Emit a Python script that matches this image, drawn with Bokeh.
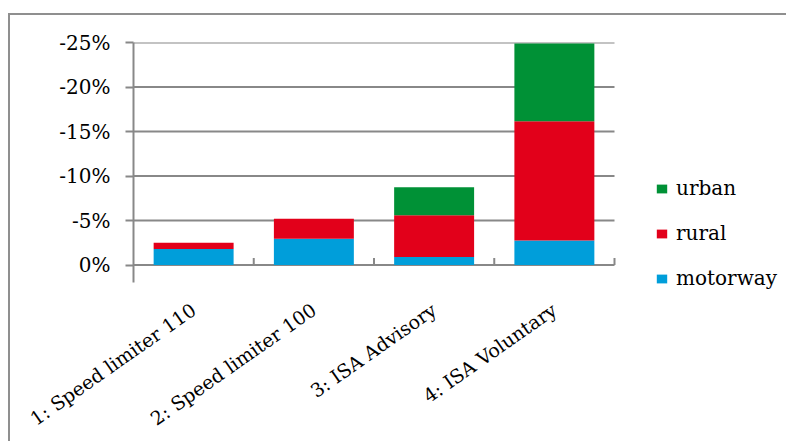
from bokeh.plotting import figure
from bokeh.models import (Range1d, FixedTicker, PrintfTickFormatter,
                          Legend, LegendItem, ColumnDataSource)
from bokeh.embed import file_html
from bokeh.resources import INLINE
import math

# ---- data ----
categories = ["1: Speed limiter 110", "2: Speed limiter 100", "3: ISA Advisory", "4: ISA Voluntary"]
series = ["motorway", "rural", "urban"]
motorway = [-1.8, -2.95, -0.9, -2.75]
rural = [-0.7, -2.25, -4.7, -13.4]
urban = [0.0, 0.0, -3.15, -8.75]
y_ticks = [0, -5, -10, -15, -20, -25]
colors = ["#009EDA", "#E2001A", "#009136"]

GRAY = "#888888"
FONT = "DejaVu Serif"

n = len(categories)
xpos = [i + 0.5 for i in range(n)]
src = ColumnDataSource(dict(x=xpos, motorway=motorway, rural=rural, urban=urban))

# plot area: n categories over 481px; the frame extends right to host the legend
frame_w, cats_px = 653, 481
frame_h = 248
p = figure(frame_width=frame_w, frame_height=frame_h, output_backend="svg", toolbar_location=None,
           x_range=Range1d(0, n * frame_w / cats_px),
           y_range=Range1d(start=frame_h / 8.904 - 25, end=-25),
           min_border_left=123, min_border_right=0, min_border_top=27, min_border_bottom=0)
p.styles = {"border-top": "2px solid #8f8f8f", "border-left": "2px solid #8f8f8f",
            "margin-top": "13px", "margin-left": "8px", "margin-bottom": "-30px"}
p.outline_line_color = None
p.background_fill_color = "white"
p.border_fill_color = "white"

# horizontal gridlines across the category area only
p.segment(x0=[0] * len(y_ticks), y0=y_ticks, x1=[n] * len(y_ticks), y1=y_ticks,
          line_color=GRAY, line_width=2)

rs = p.vbar_stack(series, x="x", width=0.665, source=src, color=colors, line_color=None)

# category boundary tick marks on the zero line
bounds = list(range(1, n + 1))
p.segment(x0=bounds, y0=[0] * n, x1=bounds, y1=[-0.8] * n, line_color=GRAY, line_width=2)

# y axis
ya = p.yaxis[0]
ya.bounds = (-25, 2)
ya.ticker = FixedTicker(ticks=y_ticks)
ya.formatter = PrintfTickFormatter(format="%d%%")
ya.axis_line_color = GRAY
ya.axis_line_width = 2
ya.major_tick_line_color = GRAY
ya.major_tick_line_width = 2
ya.major_tick_out = 8
ya.major_tick_in = 0
ya.minor_tick_line_color = None
ya.major_label_standoff = 15
ya.major_label_text_font = FONT
ya.major_label_text_font_size = "20px"
ya.major_label_text_color = "black"

# x axis with category names
xa = p.xaxis[0]
xa.ticker = FixedTicker(ticks=xpos)
xa.major_label_overrides = {x: c for x, c in zip(xpos, categories)}
xa.axis_line_color = None
xa.major_tick_line_color = None
xa.major_tick_out = 0
xa.major_tick_in = 0
xa.minor_tick_line_color = None
xa.major_label_orientation = math.radians(35)
xa.major_label_standoff = 17
xa.major_label_text_font = FONT
xa.major_label_text_font_size = "19px"
xa.major_label_text_color = "black"

p.grid.grid_line_color = None

legend = Legend(items=[LegendItem(label=s, renderers=[r]) for s, r in zip(series[::-1], rs[::-1])],
                location=(522, 0), border_line_color=None, background_fill_alpha=0,
                padding=0, margin=0, spacing=21, glyph_width=13, glyph_height=11,
                label_standoff=8, label_text_font=FONT, label_text_font_size="20px",
                label_height=20, label_text_color="black")
p.add_layout(legend, "center")

open("out.html", "w").write(file_html(p, INLINE))
